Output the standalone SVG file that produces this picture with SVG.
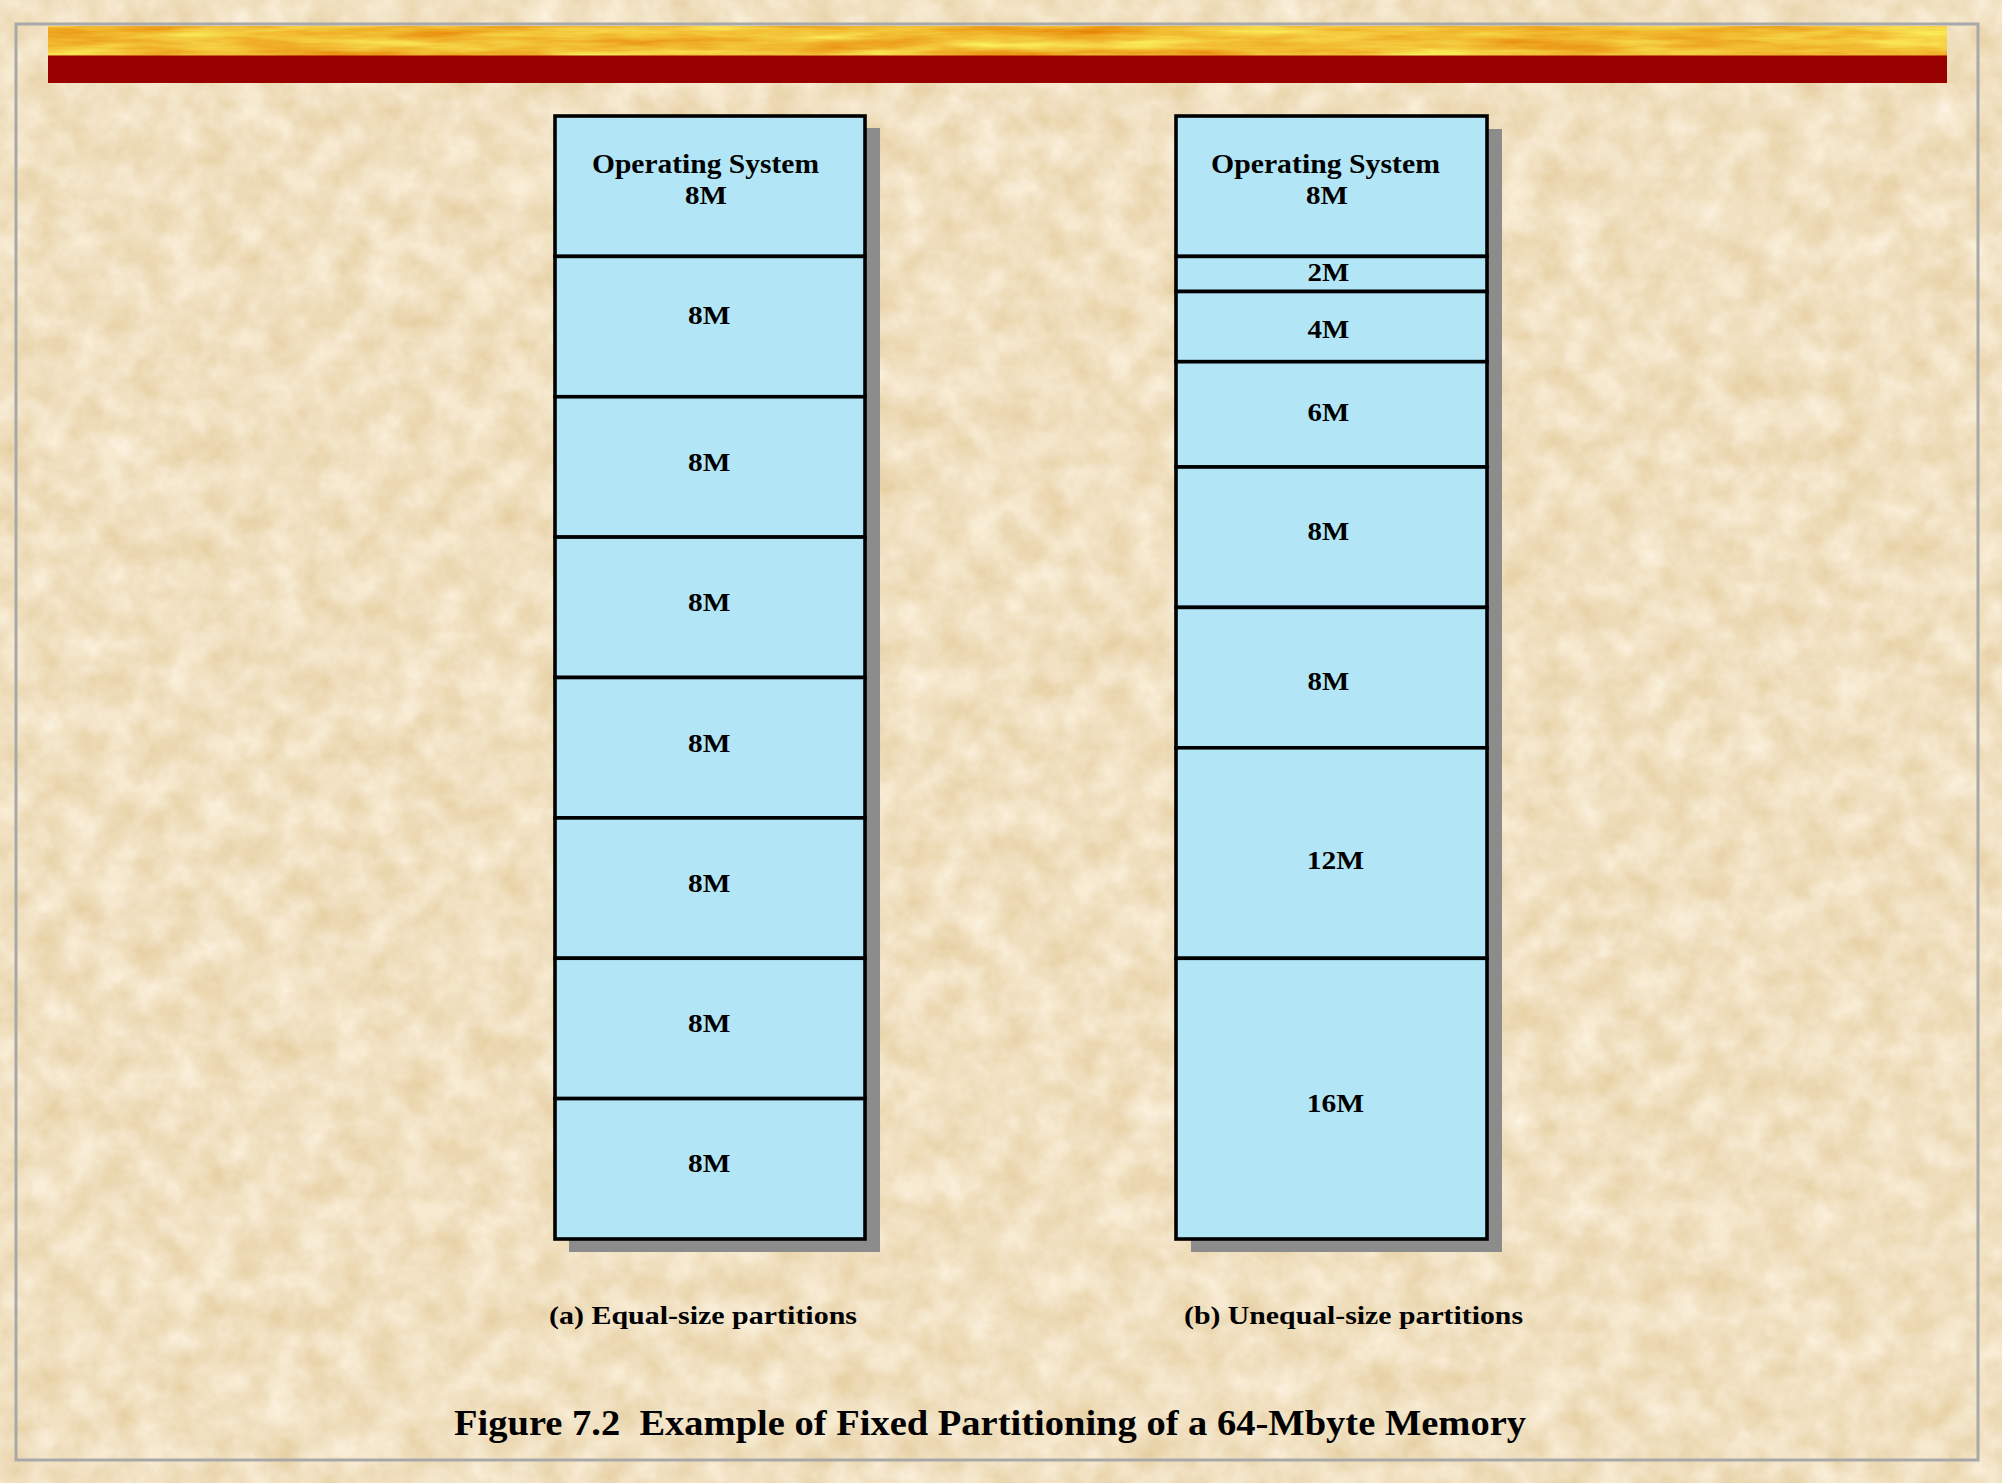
<svg xmlns="http://www.w3.org/2000/svg" width="2002" height="1483" viewBox="0 0 2002 1483">
  <defs>
    <filter id="parchment" x="0" y="0" width="100%" height="100%" color-interpolation-filters="sRGB">
      <feTurbulence type="fractalNoise" baseFrequency="0.03" numOctaves="5" seed="7" result="n"/>
      <feColorMatrix in="n" type="matrix" values="0.1 0 0 0 0.893  0.16 0 0 0 0.8  0.28 0 0 0 0.615  0 0 0 0 1"/>
    </filter>
    <filter id="goldbar" x="0" y="0" width="100%" height="100%" color-interpolation-filters="sRGB">
      <feTurbulence type="fractalNoise" baseFrequency="0.008 0.08" numOctaves="4" seed="11" result="n"/>
      <feColorMatrix in="n" type="matrix" values="0.1 0 0 0 0.9  0.55 0 0 0 0.47  0.45 0 0 0 -0.02  0 0 0 0 1"/>
    </filter>
    <style>
      .part { fill: #b2e6f7; stroke: #000000; stroke-width: 3.6; }
      .shadow { fill: #8c8c8c; }
      .lbl { font-family: "Liberation Serif", "Times New Roman", serif; font-weight: bold; font-size: 26px; fill: #000000; }
      .os { font-size: 26.5px; }
      .cap { font-family: "Liberation Serif", "Times New Roman", serif; font-weight: bold; font-size: 24.5px; fill: #000000; }
      .title { font-family: "Liberation Serif", "Times New Roman", serif; font-weight: bold; font-size: 36px; fill: #000000; white-space: pre; }
    </style>
  </defs>

  <!-- background -->
  <rect x="0" y="0" width="2002" height="1483" fill="#f1e0c2"/>
  <rect x="0" y="0" width="2002" height="1483" filter="url(#parchment)"/>

  <!-- header bars -->
  <g id="header">
    <rect x="48" y="26" width="1899" height="30" filter="url(#goldbar)"/>
    <rect x="48" y="55.5" width="1899" height="27.5" fill="#990000"/>
  </g>

  <!-- slide frame -->
  <rect id="frame" x="16" y="24" width="1962" height="1436" fill="none" stroke="#a8a8a8" stroke-width="3"/>

  <!-- (a) equal-size partitions -->
  <g id="column-a">
    <rect class="shadow" x="569" y="128" width="311" height="1124"/>
    <g id="a-os">
      <rect class="part" x="555" y="116" width="310" height="140.4"/>
      <text class="lbl os" x="592" y="173" textLength="227" lengthAdjust="spacingAndGlyphs">Operating System</text>
      <text class="lbl" x="685" y="204" textLength="42" lengthAdjust="spacingAndGlyphs">8M</text>
    </g>
    <g id="a-p1">
      <rect class="part" x="555" y="256.4" width="310" height="140.35"/>
      <text class="lbl" x="688" y="324" textLength="42.3" lengthAdjust="spacingAndGlyphs">8M</text>
    </g>
    <g id="a-p2">
      <rect class="part" x="555" y="396.75" width="310" height="140.35"/>
      <text class="lbl" x="688" y="471" textLength="42.3" lengthAdjust="spacingAndGlyphs">8M</text>
    </g>
    <g id="a-p3">
      <rect class="part" x="555" y="537.1" width="310" height="140.4"/>
      <text class="lbl" x="688" y="611" textLength="42.3" lengthAdjust="spacingAndGlyphs">8M</text>
    </g>
    <g id="a-p4">
      <rect class="part" x="555" y="677.5" width="310" height="140.4"/>
      <text class="lbl" x="688" y="751.7" textLength="42.3" lengthAdjust="spacingAndGlyphs">8M</text>
    </g>
    <g id="a-p5">
      <rect class="part" x="555" y="817.9" width="310" height="140.35"/>
      <text class="lbl" x="688" y="891.7" textLength="42.3" lengthAdjust="spacingAndGlyphs">8M</text>
    </g>
    <g id="a-p6">
      <rect class="part" x="555" y="958.25" width="310" height="140.35"/>
      <text class="lbl" x="688" y="1031.7" textLength="42.3" lengthAdjust="spacingAndGlyphs">8M</text>
    </g>
    <g id="a-p7">
      <rect class="part" x="555" y="1098.6" width="310" height="140.4"/>
      <text class="lbl" x="688" y="1172.3" textLength="42.3" lengthAdjust="spacingAndGlyphs">8M</text>
    </g>
  </g>

  <!-- (b) unequal-size partitions -->
  <g id="column-b">
    <rect class="shadow" x="1191" y="129" width="311" height="1123"/>
    <g id="b-os">
      <rect class="part" x="1176" y="116" width="311" height="140.4"/>
      <text class="lbl os" x="1211" y="173" textLength="229" lengthAdjust="spacingAndGlyphs">Operating System</text>
      <text class="lbl" x="1306" y="204" textLength="42" lengthAdjust="spacingAndGlyphs">8M</text>
    </g>
    <g id="b-2m">
      <rect class="part" x="1176" y="256.4" width="311" height="35.1"/>
      <text class="lbl" x="1307.5" y="281" textLength="41.7" lengthAdjust="spacingAndGlyphs">2M</text>
    </g>
    <g id="b-4m">
      <rect class="part" x="1176" y="291.5" width="311" height="70.2"/>
      <text class="lbl" x="1307.5" y="337.7" textLength="41.7" lengthAdjust="spacingAndGlyphs">4M</text>
    </g>
    <g id="b-6m">
      <rect class="part" x="1176" y="361.7" width="311" height="105.3"/>
      <text class="lbl" x="1307.5" y="421" textLength="41.7" lengthAdjust="spacingAndGlyphs">6M</text>
    </g>
    <g id="b-8m-1">
      <rect class="part" x="1176" y="467" width="311" height="140.4"/>
      <text class="lbl" x="1307.5" y="540" textLength="41.7" lengthAdjust="spacingAndGlyphs">8M</text>
    </g>
    <g id="b-8m-2">
      <rect class="part" x="1176" y="607.4" width="311" height="140.4"/>
      <text class="lbl" x="1307.5" y="690" textLength="41.7" lengthAdjust="spacingAndGlyphs">8M</text>
    </g>
    <g id="b-12m">
      <rect class="part" x="1176" y="747.8" width="311" height="210.5"/>
      <text class="lbl" x="1306.7" y="869.3" textLength="57.3" lengthAdjust="spacingAndGlyphs">12M</text>
    </g>
    <g id="b-16m">
      <rect class="part" x="1176" y="958.3" width="311" height="280.7"/>
      <text class="lbl" x="1306.7" y="1112" textLength="57.3" lengthAdjust="spacingAndGlyphs">16M</text>
    </g>
  </g>

  <!-- captions -->
  <g id="captions">
    <text class="cap" x="549" y="1324" textLength="308" lengthAdjust="spacingAndGlyphs">(a) Equal-size partitions</text>
    <text class="cap" x="1184" y="1324" textLength="339" lengthAdjust="spacingAndGlyphs">(b) Unequal-size partitions</text>
    <text class="title" x="454" y="1435" textLength="1072" lengthAdjust="spacingAndGlyphs" xml:space="preserve">Figure 7.2  Example of Fixed Partitioning of a 64-Mbyte Memory</text>
  </g>
</svg>
